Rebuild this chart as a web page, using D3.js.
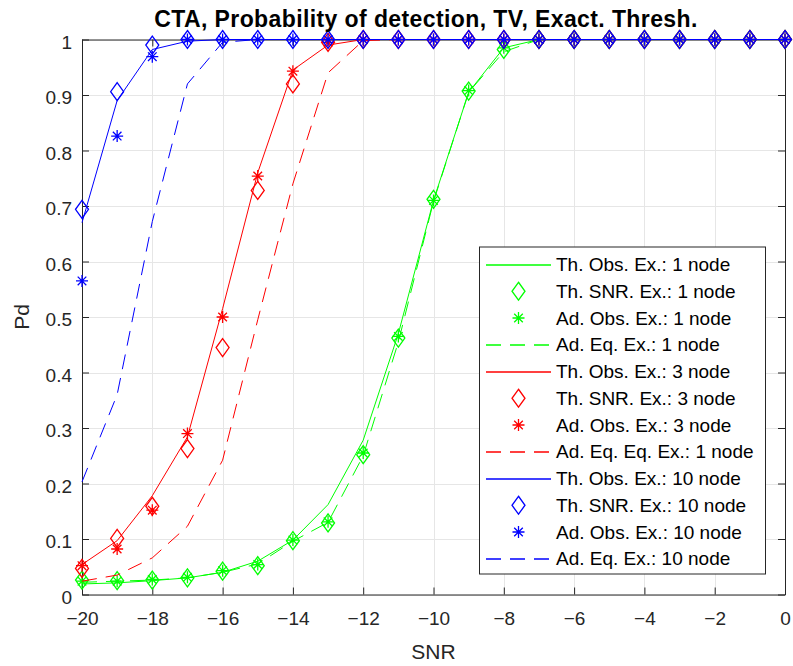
<!DOCTYPE html>
<html>
<head>
<meta charset="utf-8">
<script src="https://cdn.jsdelivr.net/npm/d3@7"></script>
<style>
  html, body { margin: 0; padding: 0; background: #fff; }
  svg { display: block; font-family: "Liberation Sans", Arial, Helvetica, sans-serif; }
</style>
</head>
<body>
<svg id="chart" width="793" height="666"></svg>
<script>
// SNR axis (dB)
const snr = d3.range(-20, 1, 1);

// 1 node
const g_thObs  = [0.019, 0.021, 0.025, 0.030, 0.040, 0.060, 0.098, 0.162, 0.278, 0.470, 0.710, 0.905, 0.985, 1, 1, 1, 1, 1, 1, 1, 1];
const g_thSnr  = [0.026, 0.025, 0.026, 0.030, 0.042, 0.052, 0.097, 0.129, 0.252, 0.462, 0.712, 0.907, 0.982, 1, 1, 1, 1, 1, 1, 1, 1];
const g_adObs  = [0.024, 0.024, 0.027, 0.031, 0.043, 0.054, 0.098, 0.131, 0.255, 0.465, 0.710, 0.908, 0.985, 1, 1, 1, 1, 1, 1, 1, 1];
const g_adEq   = [0.022, 0.024, 0.026, 0.030, 0.040, 0.055, 0.096, 0.130, 0.250, 0.455, 0.708, 0.905, 0.978, 1, 1, 1, 1, 1, 1, 1, 1];

// 3 nodes
const r_thObs  = [0.054, 0.097, 0.178, 0.284, 0.515, 0.760, 0.945, 0.990, 1, 1, 1, 1, 1, 1, 1, 1, 1, 1, 1, 1, 1];
const r_thSnr  = [0.047, 0.101, 0.159, 0.263, 0.445, 0.728, 0.920, 0.995, 1, 1, 1, 1, 1, 1, 1, 1, 1, 1, 1, 1, 1];
const r_adObs  = [0.052, 0.082, 0.152, 0.290, 0.500, 0.754, 0.943, 0.995, 1, 1, 1, 1, 1, 1, 1, 1, 1, 1, 1, 1, 1];
const r_adEq   = [0.024, 0.035, 0.066, 0.123, 0.242, 0.495, 0.740, 0.940, 0.998, 1, 1, 1, 1, 1, 1, 1, 1, 1, 1, 1, 1];

// 10 nodes
const b_thObs  = [0.670, 0.890, 0.982, 0.997, 1, 1, 1, 1, 1, 1, 1, 1, 1, 1, 1, 1, 1, 1, 1, 1, 1];
const b_thSnr  = [0.694, 0.906, 0.990, 1, 1, 1, 1, 1, 1, 1, 1, 1, 1, 1, 1, 1, 1, 1, 1, 1, 1];
const b_adObs  = [0.565, 0.826, 0.969, 1, 1, 1, 1, 1, 1, 1, 1, 1, 1, 1, 1, 1, 1, 1, 1, 1, 1];
const b_adEq   = [0.203, 0.360, 0.672, 0.920, 0.995, 1, 1, 1, 1, 1, 1, 1, 1, 1, 1, 1, 1, 1, 1, 1, 1];

const xTicks = [-20, -18, -16, -14, -12, -10, -8, -6, -4, -2, 0];
const yTicks = [0, 0.1, 0.2, 0.3, 0.4, 0.5, 0.6, 0.7, 0.8, 0.9, 1];

const titleText = "CTA, Probability of detection, TV, Exact. Thresh.";
const xLabel = "SNR";
const yLabel = "Pd";

// series: [label, values, kind, colour]
const series = [
  ["Th. Obs. Ex.: 1 node",      g_thObs, "solid",   "#00ff00"],
  ["Th. SNR. Ex.: 1 node",      g_thSnr, "diamond", "#00ff00"],
  ["Ad. Obs. Ex.: 1 node",      g_adObs, "star",    "#00ff00"],
  ["Ad. Eq. Ex.: 1 node",       g_adEq,  "dashed",  "#00ff00"],
  ["Th. Obs. Ex.: 3 node",      r_thObs, "solid",   "#ff0000"],
  ["Th. SNR. Ex.: 3 node",      r_thSnr, "diamond", "#ff0000"],
  ["Ad. Obs. Ex.: 3 node",      r_adObs, "star",    "#ff0000"],
  ["Ad. Eq. Eq. Ex.: 1 node",   r_adEq,  "dashed",  "#ff0000"],
  ["Th. Obs. Ex.: 10 node",     b_thObs, "solid",   "#0000ff"],
  ["Th. SNR. Ex.: 10 node",     b_thSnr, "diamond", "#0000ff"],
  ["Ad. Obs. Ex.: 10 node",     b_adObs, "star",    "#0000ff"],
  ["Ad. Eq. Ex.: 10 node",      b_adEq,  "dashed",  "#0000ff"]
];

const svg = d3.select("#chart");
const L = 82, R = 785, T = 39.5, B = 594.5;
const x = d3.scaleLinear().domain([-20, 0]).range([L, R]);
const y = d3.scaleLinear().domain([0, 1]).range([B, T]);
const axisCol = "#262626";
const dash = "15,9";

// grid
const grid = svg.append("g");
grid.selectAll("line.gx").data(xTicks).join("line").attr("class", "gx")
  .attr("x1", d => Math.round(x(d)) + 0.5).attr("x2", d => Math.round(x(d)) + 0.5)
  .attr("y1", T).attr("y2", B)
  .attr("stroke", "#e6e6e6").attr("stroke-width", 1);
grid.selectAll("line.gy").data(yTicks).join("line").attr("class", "gy")
  .attr("y1", d => Math.round(y(d)) + 0.5).attr("y2", d => Math.round(y(d)) + 0.5)
  .attr("x1", L).attr("x2", R)
  .attr("stroke", "#e6e6e6").attr("stroke-width", 1);

// axes: bottom/left with labels, top/right as box edges, ticks pointing inward
const tickLen = 7;
const fontTick = 19;
const xAxis = svg.append("g").attr("transform", `translate(0,${B})`)
  .call(d3.axisBottom(x).tickValues(xTicks).tickSizeInner(-tickLen).tickSizeOuter(0).tickFormat(d3.format("d")));
const yAxis = svg.append("g").attr("transform", `translate(${L},0)`)
  .call(d3.axisLeft(y).tickValues(yTicks).tickSizeInner(-tickLen).tickSizeOuter(0).tickFormat(d => d === 0 || d === 1 ? String(d) : d3.format(".1f")(d)));
const xTop = svg.append("g").attr("transform", `translate(0,${T})`)
  .call(d3.axisTop(x).tickValues(xTicks).tickSizeInner(-tickLen).tickSizeOuter(0).tickFormat(""));
const yRight = svg.append("g").attr("transform", `translate(${R},0)`)
  .call(d3.axisRight(y).tickValues(yTicks).tickSizeInner(-tickLen).tickSizeOuter(0).tickFormat(""));
[xAxis, yAxis, xTop, yRight].forEach(a => {
  a.select(".domain").attr("stroke", axisCol).attr("stroke-width", 1);
  a.selectAll(".tick line").attr("stroke", axisCol);
  a.selectAll("text").attr("fill", axisCol).attr("font-size", fontTick)
    .attr("font-family", "'Liberation Sans', Arial, sans-serif");
});
xAxis.selectAll("text").attr("y", 17).attr("dy", "0.71em");
yAxis.selectAll("text").attr("x", -10).attr("dy", "0.45em");

// marks
const plot = svg.append("g");
const lineGen = vals => d3.line().x((d, i) => x(snr[i])).y(d => y(d))(vals);
const diamondPath = "M0,-9 L6.5,0 L0,9 L-6.5,0 Z";
const starPath = "M-6,0 L6,0 M0,-6 L0,6 M-4.3,-4.3 L4.3,4.3 M-4.3,4.3 L4.3,-4.3";

series.forEach(([name, vals, kind, col]) => {
  if (kind === "solid" || kind === "dashed") {
    plot.append("path").attr("d", lineGen(vals))
      .attr("fill", "none").attr("stroke", col).attr("stroke-width", 1)
      .attr("stroke-dasharray", kind === "dashed" ? dash : null);
  } else {
    plot.append("g").selectAll("path").data(vals).join("path")
      .attr("transform", (d, i) => `translate(${x(snr[i])},${y(d)})`)
      .attr("d", kind === "diamond" ? diamondPath : starPath)
      .attr("fill", "none").attr("stroke", col).attr("stroke-width", 1.3);
  }
});

// legend
const lg = svg.append("g");
const lx0 = 479, ly0 = 246.5, lw = 286, lh = 327;
lg.append("rect").attr("x", lx0 + 0.5).attr("y", ly0 + 0.5).attr("width", lw).attr("height", lh)
  .attr("fill", "#fff").attr("stroke", axisCol).attr("stroke-width", 1);
const rowH = 26.75, row0 = 264.5;
series.forEach(([name, vals, kind, col], k) => {
  const cy = row0 + k * rowH;
  const cyLine = Math.round(cy);
  if (kind === "solid" || kind === "dashed") {
    lg.append("line").attr("x1", 486).attr("x2", 551).attr("y1", cyLine).attr("y2", cyLine)
      .style("stroke", col).attr("stroke-width", 1.3)
      .attr("stroke-dasharray", kind === "dashed" ? dash : null);
  } else {
    lg.append("path").attr("transform", `translate(518.5,${cy})`)
      .attr("d", kind === "diamond" ? diamondPath : starPath)
      .attr("fill", "none").attr("stroke", col).attr("stroke-width", 1.3);
  }
  lg.append("text").attr("x", 556).attr("y", cy).attr("dy", "0.35em")
    .attr("font-size", fontTick).attr("fill", "#000").text(name);
});

// title and axis labels
svg.append("text").attr("x", 426).attr("y", 26.5).attr("text-anchor", "middle")
  .attr("font-size", 23).attr("letter-spacing", 0.4).attr("font-weight", "bold").attr("fill", "#000").text(titleText);
svg.append("text").attr("x", (L + R) / 2).attr("y", 659).attr("text-anchor", "middle")
  .attr("font-size", 21).attr("fill", axisCol).text(xLabel);
svg.append("text").attr("transform", `translate(29,${(T + B) / 2}) rotate(-90)`).attr("text-anchor", "middle")
  .attr("font-size", 21).attr("fill", axisCol).text(yLabel);
</script>
</body>
</html>
